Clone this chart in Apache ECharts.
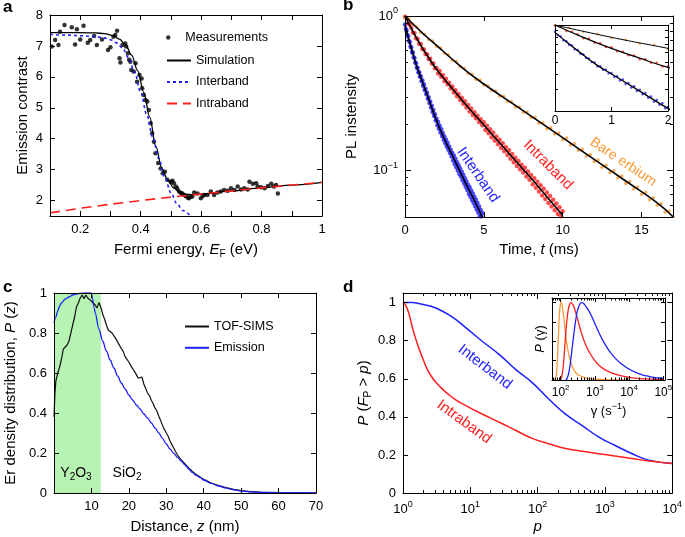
<!DOCTYPE html>
<html><head><meta charset="utf-8">
<script src="https://cdn.jsdelivr.net/npm/echarts@6/dist/echarts.min.js"></script>
<style>html,body{margin:0;padding:0;background:#fff}#c{width:685px;height:537px}</style>
</head><body><div id="c"></div>
<script>
// ---------- Panel a ----------
const aMeas = [[0.106,6.98],[0.117,7.19],[0.128,7.03],[0.133,7.46],[0.148,7.68],[0.172,7.60],[0.183,7.05],[0.189,7.54],[0.2,7.21],[0.211,7.65],[0.225,7.10],[0.233,7.19],[0.246,7.32],[0.255,7.03],[0.272,7.21],[0.292,6.87],[0.3,6.96],[0.31,7.30],[0.316,7.35],[0.322,7.49],[0.33,6.6],[0.333,6.46],[0.34,7.03],[0.349,7.08],[0.352,6.98],[0.358,6.76],[0.362,6.55],[0.366,6.49],[0.369,6.22],[0.377,6.17],[0.383,6.44],[0.388,5.84],[0.396,6.06],[0.403,5.95],[0.405,5.63],[0.41,5.41],[0.416,5.25],[0.422,5.2],[0.427,4.93],[0.433,4.5],[0.438,4.18],[0.444,3.9],[0.449,3.53],[0.458,3.21],[0.466,3.04],[0.473,2.88],[0.48,2.93],[0.488,2.67],[0.499,2.61],[0.505,2.64],[0.51,2.56],[0.516,2.45],[0.521,2.4],[0.527,2.29],[0.533,2.24],[0.538,2.23],[0.545,2.18],[0.549,2.15],[0.555,2.1],[0.56,2.07],[0.565,2.12],[0.571,2.13],[0.577,2.26],[0.588,2.23],[0.599,2.07],[0.605,2.15],[0.61,2.18],[0.621,2.18],[0.632,2.29],[0.643,2.18],[0.654,2.26],[0.665,2.29],[0.676,2.34],[0.688,2.32],[0.699,2.40],[0.71,2.34],[0.721,2.45],[0.732,2.36],[0.743,2.40],[0.754,2.36],[0.76,2.61],[0.771,2.54],[0.782,2.56],[0.787,2.45],[0.798,2.43],[0.81,2.40],[0.821,2.47],[0.832,2.54],[0.841,2.45],[0.848,2.5],[0.854,2.23]];
const aSim = [[0.1,7.43],[0.15,7.43],[0.2,7.43],[0.25,7.42],[0.28,7.4],[0.31,7.33],[0.33,7.22],[0.35,7.03],[0.37,6.7],[0.39,6.2],[0.41,5.5],[0.43,4.7],[0.45,3.75],[0.47,3.05],[0.49,2.65],[0.51,2.4],[0.53,2.27],[0.55,2.2],[0.57,2.19],[0.6,2.21],[0.7,2.31],[0.8,2.41],[0.9,2.5],[1.0,2.59]];
const aInter = [[0.1,7.37],[0.15,7.35],[0.2,7.33],[0.25,7.3],[0.28,7.26],[0.3,7.2],[0.32,7.1],[0.34,6.93],[0.36,6.62],[0.38,6.15],[0.4,5.5],[0.42,4.78],[0.44,4.05],[0.46,3.35],[0.48,2.75],[0.5,2.25],[0.52,1.9],[0.54,1.68],[0.565,1.5]];
const aIntra = [[0.1,1.6],[0.2,1.75],[0.3,1.88],[0.4,2.0],[0.5,2.11],[0.6,2.21],[0.7,2.31],[0.8,2.41],[0.9,2.5],[1.0,2.59]];

// ---------- Panel b ----------
const bScatInter = [[0,0.88],[0.05,0.825],[0.1,0.805],[0.15,0.752],[0.2,0.738],[0.25,0.69],[0.3,0.68],[0.35,0.635],[0.4,0.625],[0.45,0.585],[0.5,0.578],[0.55,0.54],[0.6,0.535],[0.65,0.5],[0.7,0.495],[0.75,0.462],[0.8,0.462],[0.85,0.432],[0.9,0.433],[0.95,0.405],[1,0.408],[1.05,0.378],[1.1,0.384],[1.15,0.354],[1.2,0.361],[1.25,0.332],[1.3,0.338],[1.35,0.311],[1.4,0.318],[1.45,0.291],[1.5,0.298],[1.55,0.273],[1.6,0.28],[1.65,0.256],[1.7,0.262],[1.75,0.239],[1.8,0.246],[1.85,0.225],[1.9,0.231],[1.95,0.211],[2,0.216],[2.05,0.196],[2.1,0.206],[2.15,0.186],[2.2,0.195],[2.25,0.176],[2.3,0.185],[2.35,0.167],[2.4,0.175],[2.45,0.158],[2.5,0.166],[2.55,0.15],[2.6,0.158],[2.65,0.143],[2.7,0.151],[2.75,0.136],[2.8,0.143],[2.85,0.13],[2.9,0.136],[2.95,0.123],[3,0.13],[3.05,0.116],[3.1,0.125],[3.15,0.11],[3.2,0.119],[3.25,0.105],[3.3,0.113],[3.35,0.1],[3.4,0.108],[3.45,0.095],[3.5,0.103],[3.55,0.091],[3.6,0.098],[3.65,0.0866],[3.7,0.0935],[3.75,0.0825],[3.8,0.089],[3.85,0.0785],[3.9,0.0848],[3.95,0.0748],[4,0.081],[4.05,0.0707],[4.1,0.078],[4.15,0.0675],[4.2,0.0743],[4.25,0.0644],[4.3,0.0709],[4.35,0.0615],[4.4,0.0677],[4.45,0.0587],[4.5,0.0647],[4.55,0.0559],[4.6,0.0615],[4.65,0.0532],[4.7,0.0585],[4.75,0.0506],[4.8,0.0556],[4.85,0.0505],[4.9,0.053]];
const bScatIntra = [[0,0.99],[0.1,0.965],[0.2,0.895],[0.3,0.88],[0.4,0.84],[0.5,0.78],[0.6,0.775],[0.7,0.718],[0.8,0.71],[0.9,0.662],[1,0.658],[1.1,0.611],[1.2,0.606],[1.3,0.568],[1.4,0.566],[1.5,0.527],[1.6,0.528],[1.7,0.493],[1.8,0.493],[1.9,0.459],[2,0.46],[2.1,0.425],[2.2,0.44],[2.3,0.405],[2.4,0.415],[2.5,0.38],[2.6,0.392],[2.7,0.361],[2.8,0.37],[2.9,0.339],[3,0.35],[3.1,0.32],[3.2,0.331],[3.3,0.302],[3.4,0.313],[3.5,0.286],[3.6,0.296],[3.7,0.27],[3.8,0.281],[3.9,0.256],[4,0.265],[4.1,0.241],[4.2,0.252],[4.3,0.229],[4.4,0.238],[4.5,0.218],[4.6,0.226],[4.7,0.206],[4.8,0.215],[4.9,0.196],[5,0.205],[5.1,0.183],[5.2,0.195],[5.3,0.174],[5.4,0.185],[5.5,0.164],[5.6,0.176],[5.7,0.156],[5.8,0.166],[5.9,0.148],[6,0.158],[6.1,0.14],[6.2,0.15],[6.3,0.133],[6.4,0.142],[6.5,0.126],[6.6,0.135],[6.7,0.119],[6.8,0.128],[6.9,0.113],[7,0.121],[7.1,0.107],[7.2,0.115],[7.3,0.102],[7.4,0.109],[7.5,0.097],[7.6,0.104],[7.7,0.0916],[7.8,0.0985],[7.9,0.087],[8,0.0935],[8.1,0.0815],[8.2,0.089],[8.3,0.0772],[8.4,0.0846],[8.5,0.073],[8.6,0.0803],[8.7,0.069],[8.8,0.0762],[8.9,0.0653],[9,0.0721],[9.1,0.0617],[9.2,0.0683],[9.3,0.0584],[9.4,0.0646],[9.5,0.0553],[9.6,0.0612],[9.7,0.0522],[9.8,0.0578],[9.9,0.0505],[10,0.0545]];
const bScatBare = [[0,0.99],[0.25,0.955],[0.5,0.88],[0.75,0.85],[1,0.785],[1.25,0.76],[1.5,0.705],[1.75,0.688],[2,0.638],[2.25,0.62],[2.5,0.575],[2.75,0.561],[3,0.518],[3.25,0.507],[3.5,0.469],[3.75,0.459],[4,0.425],[4.25,0.419],[4.5,0.39],[4.75,0.385],[5,0.357],[5.25,0.354],[5.5,0.329],[5.75,0.327],[6,0.303],[6.25,0.302],[6.5,0.28],[6.75,0.279],[7,0.258],[7.25,0.258],[7.5,0.238],[7.75,0.239],[8,0.22],[8.25,0.221],[8.5,0.202],[8.75,0.204],[9,0.186],[9.25,0.189],[9.5,0.172],[9.75,0.175],[10,0.158],[10.25,0.162],[10.5,0.146],[10.75,0.149],[11,0.135],[11.25,0.137],[11.5,0.124],[11.75,0.127],[12,0.114],[12.25,0.117],[12.5,0.105],[12.75,0.108],[13,0.097],[13.25,0.0995],[13.5,0.0895],[13.75,0.092],[14,0.0825],[14.25,0.0848],[14.5,0.076],[14.75,0.0782],[15,0.0702],[15.25,0.0722],[15.5,0.0647],[15.75,0.0666],[16,0.0596],[16.25,0.0606],[16.5,0.0537],[16.75,0.0546],[17,0.0505]];
const bFitInter = [[0,0.871],[0.25,0.70],[0.5,0.57],[0.75,0.47],[1,0.40],[1.5,0.29],[2,0.21],[2.5,0.16],[3,0.125],[3.5,0.098],[4,0.077],[4.5,0.061],[4.9,0.05]];
const bFitIntra = [[0,1],[0.5,0.794],[1,0.646],[1.5,0.537],[2,0.452],[3,0.339],[4,0.257],[5,0.197],[6,0.151],[7,0.116],[8,0.0891],[9,0.0676],[10,0.0513]];
const bFitBare = [[0,1],[1,0.794],[2,0.646],[3,0.525],[4,0.432],[5,0.363],[6,0.309],[8,0.225],[10,0.163],[12,0.118],[14,0.0855],[16,0.0618],[17,0.0502]];

// ---------- Panel c ----------
const cLayer = [0, 12.5];
const cTof = [[0,0.38],[0.25,0.5],[0.5,0.56],[1,0.6],[1.5,0.63],[2,0.67],[2.5,0.72],[3,0.715],[3.5,0.74],[4,0.76],[4.5,0.8],[5,0.84],[5.5,0.88],[6,0.93],[6.5,0.95],[7,0.975],[7.5,0.99],[8,0.972],[8.5,0.99],[9,0.975],[9.5,0.97],[10,0.96],[10.5,0.955],[11,0.94],[11.5,0.925],[12,0.952],[12.5,0.93],[13,0.895],[13.5,0.87],[14,0.84],[14.5,0.815],[15,0.822],[15.5,0.8],[16,0.792],[16.5,0.772],[17,0.762],[17.5,0.738],[18,0.722],[18.5,0.708],[19,0.682],[19.5,0.668],[20,0.655],[20.5,0.638],[21,0.622],[21.5,0.608],[22,0.592],[22.5,0.574],[23,0.566],[23.5,0.58],[24,0.545],[24.5,0.522],[25,0.5],[25.5,0.487],[26,0.464],[26.5,0.446],[27,0.424],[27.5,0.41],[28,0.384],[28.5,0.362],[29,0.338],[29.5,0.318],[30,0.3],[30.5,0.284],[31,0.26],[31.5,0.242],[32,0.224],[32.5,0.206],[33,0.19],[33.5,0.18],[34,0.165],[35,0.145],[36,0.125],[37,0.108],[38,0.092],[39,0.08],[40,0.068],[42,0.05],[44,0.037],[46,0.027],[48,0.018],[50,0.012],[52,0.008],[55,0.004],[60,0.002],[65,0.001],[70,0]];
const cEmission = [[0,0.85],[0.5,0.88],[1,0.91],[1.5,0.935],[2,0.95],[3,0.97],[4,0.98],[5,0.99],[6,0.995],[7,0.998],[8,1],[9,1],[10,1],[10.3,0.97],[10.7,0.93],[11,0.9],[12,0.82],[13,0.76],[14,0.71],[15,0.665],[16,0.625],[17,0.585],[18,0.55],[19,0.52],[20,0.49],[21,0.465],[22,0.44],[23,0.42],[24,0.395],[25,0.375],[26,0.35],[27,0.325],[28,0.3],[29,0.272],[30,0.245],[31,0.22],[32,0.198],[33,0.178],[34,0.16],[35,0.14],[36,0.12],[37,0.102],[38,0.088],[39,0.078],[40,0.065],[42,0.048],[44,0.035],[46,0.024],[48,0.016],[50,0.01],[52,0.006],[55,0.003],[60,0.001],[65,0],[70,0]];

// ---------- Panel d ----------
const dP = [1,1.1,1.25,1.4,1.7,2,2.5,3.5,5.5,9,15,27,47,83,150,260,460,810,1400,2500,4500,10000];
const dInter = [1,1,1,1,0.995,0.99,0.982,0.962,0.922,0.862,0.797,0.727,0.649,0.58,0.49,0.414,0.354,0.294,0.251,0.208,0.173,0.155];
const dIntra = [1,0.985,0.93,0.86,0.765,0.70,0.625,0.56,0.50,0.455,0.415,0.372,0.33,0.287,0.258,0.234,0.22,0.207,0.195,0.182,0.168,0.155];
const gBare = [[66,0],[74,0.05],[79,0.2],[85,0.5],[91,0.8],[98,0.97],[105,1],[112,0.95],[126,0.78],[141,0.58],[158,0.42],[200,0.22],[251,0.12],[316,0.07],[501,0.03],[1000,0.01],[3162,0.002],[10000,0]];
const gIntra = [[100,0],[112,0.08],[126,0.3],[141,0.6],[158,0.83],[178,0.96],[200,1],[224,0.98],[251,0.93],[316,0.78],[398,0.62],[501,0.49],[631,0.39],[1000,0.25],[1585,0.16],[3162,0.09],[10000,0.035],[31620,0.015],[100000,0.006]];
const gInter = [[141,0],[158,0.03],[178,0.12],[200,0.28],[224,0.46],[251,0.64],[282,0.8],[316,0.91],[355,0.97],[398,1],[447,0.995],[501,0.975],[631,0.91],[794,0.83],[1000,0.73],[1585,0.54],[2512,0.39],[3981,0.28],[6310,0.2],[10000,0.14],[19950,0.08],[39810,0.045],[100000,0.02]];

// ---------- styling / helpers ----------
const FONT = '"Liberation Sans", Arial, Helvetica, sans-serif';
const BLK = '#000';
const BLUE = '#1f1fff', RED = '#ff1f1f', ORANGE = '#f99a32', GREEN = '#b7f3b3';

function merge(a, b) {
  for (const k in b) {
    if (b[k] && typeof b[k] === 'object' && !Array.isArray(b[k]) && typeof b[k] !== 'function' &&
        a[k] && typeof a[k] === 'object' && !Array.isArray(a[k])) merge(a[k], b[k]);
    else a[k] = b[k];
  }
  return a;
}
function axis(extra) {
  return merge({
    type: 'value', z: 5,
    axisLine: { show: true, onZero: false, lineStyle: { color: BLK, width: 1 } },
    axisTick: { show: true, inside: true, length: 5, lineStyle: { color: BLK, width: 1 } },
    axisLabel: { show: true, color: BLK, fontSize: 13, fontFamily: FONT, margin: 7 },
    splitLine: { show: false },
    nameLocation: 'middle',
    nameTextStyle: { color: BLK, fontSize: 15, fontFamily: FONT, lineHeight: 19 }
  }, extra);
}
function supRich(fs) {
  const ps = Math.round(fs * 0.7);
  return { n: { fontSize: fs, fontFamily: FONT, color: BLK, lineHeight: fs + 6 },
           p: { fontSize: ps, fontFamily: FONT, color: BLK, lineHeight: ps, verticalAlign: 'top' } };
}
function nameRich(fs) {
  const ss = Math.round(fs * 0.68);
  return { i: { fontStyle: 'italic', fontSize: fs, fontFamily: FONT, color: BLK, lineHeight: fs + 4 },
           s: { fontSize: ss, fontFamily: FONT, color: BLK, lineHeight: ss, verticalAlign: 'bottom' },
           p: { fontSize: ss, fontFamily: FONT, color: BLK, lineHeight: ss, verticalAlign: 'top' } };
}
function powLabel(v) {
  const e = Math.log10(v), r = Math.round(e);
  if (Math.abs(e - r) > 1e-6) return '';
  return '{n|10}{p|' + (r < 0 ? '\u2212' + (-r) : r) + '}';
}
function minorLog(lo, hi) {
  const out = [];
  for (let d = Math.floor(Math.log10(lo)); d <= Math.ceil(Math.log10(hi)); d++)
    for (let m = 2; m <= 9; m++) {
      const v = +(m * Math.pow(10, d)).toPrecision(6);
      if (v > lo * 1.0001 && v < hi * 0.9999) out.push(v);
    }
  return out;
}
const fmt01 = v => Math.abs(v) < 1e-9 ? '0' : (Math.abs(v - 1) < 1e-9 ? '1' : v.toFixed(1));
const fmtA = v => { const k = Math.round(v * 10); return k % 2 === 0 ? (k === 10 ? '1' : (k / 10).toFixed(1)) : ''; };
const noLab = { show: false };

const xAxes = [
  axis({ gridIndex: 0, position: 'bottom', min: 0.1, max: 1, interval: 0.1, axisLabel: { formatter: fmtA },
         name: 'Fermi energy, {i|E}{s|F} (eV)', nameGap: 24, nameTextStyle: { rich: nameRich(15) } }),
  axis({ gridIndex: 0, position: 'top', min: 0.1, max: 1, interval: 0.1, axisLabel: noLab }),
  axis({ gridIndex: 1, position: 'bottom', min: 0, max: 17, interval: 5, axisLabel: { showMaxLabel: false },
         name: 'Time, {i|t} (ms)', nameGap: 23, nameTextStyle: { rich: nameRich(15) } }),
  axis({ gridIndex: 1, position: 'top', min: 0, max: 17, interval: 5, axisLabel: noLab }),
  axis({ gridIndex: 2, position: 'bottom', min: 0, max: 2, interval: 1, axisTick: { length: 4 }, axisLabel: { fontSize: 12, margin: 4 } }),
  axis({ gridIndex: 2, position: 'top', min: 0, max: 2, interval: 1, axisTick: { length: 4 }, axisLabel: noLab }),
  axis({ gridIndex: 3, position: 'bottom', min: 0, max: 70, interval: 10, axisLabel: { showMinLabel: false },
         name: 'Distance, {i|z} (nm)', nameGap: 24, nameTextStyle: { rich: nameRich(15) } }),
  axis({ gridIndex: 3, position: 'top', min: 0, max: 70, interval: 10, axisLabel: noLab }),
  axis({ gridIndex: 4, position: 'bottom', type: 'log', logBase: 10, min: 1, max: 10000, axisTick: { length: 6 },
         axisLabel: { formatter: powLabel, rich: supRich(13) }, name: '{i|p}', nameGap: 20, nameTextStyle: { rich: nameRich(15) } }),
  axis({ gridIndex: 4, position: 'bottom', type: 'log', logBase: 10, min: 1, max: 10000, axisLine: { show: false },
         axisLabel: noLab, axisTick: { length: 3, customValues: minorLog(1, 10000) } }),
  axis({ gridIndex: 4, position: 'top', type: 'log', logBase: 10, min: 1, max: 10000, axisTick: { length: 6 }, axisLabel: noLab }),
  axis({ gridIndex: 4, position: 'top', type: 'log', logBase: 10, min: 1, max: 10000, axisLine: { show: false },
         axisLabel: noLab, axisTick: { length: 3, customValues: minorLog(1, 10000) } }),
  axis({ gridIndex: 5, position: 'bottom', type: 'log', logBase: 10, min: 56, max: 112000, axisTick: { length: 4 },
         axisLabel: { fontSize: 12, margin: 4, formatter: powLabel, rich: supRich(12) },
         name: '\u03b3 (s{p|\u22121})', nameGap: 22, nameTextStyle: { fontSize: 13, rich: nameRich(13) } }),
  axis({ gridIndex: 5, position: 'bottom', type: 'log', logBase: 10, min: 56, max: 112000, axisLine: { show: false },
         axisLabel: noLab, axisTick: { length: 2.5, customValues: minorLog(56, 112000) } }),
  axis({ gridIndex: 5, position: 'top', type: 'log', logBase: 10, min: 56, max: 112000, axisTick: { length: 4 }, axisLabel: noLab }),
  axis({ gridIndex: 5, position: 'top', type: 'log', logBase: 10, min: 56, max: 112000, axisLine: { show: false },
         axisLabel: noLab, axisTick: { length: 2.5, customValues: minorLog(56, 112000) } })
];
const yAxes = [
  axis({ gridIndex: 0, position: 'left', min: 1.5, max: 8, minInterval: 1, maxInterval: 1, axisLabel: { showMinLabel: false },
         name: 'Emission contrast', nameGap: 17 }),
  axis({ gridIndex: 0, position: 'right', min: 1.5, max: 8, minInterval: 1, maxInterval: 1, axisLabel: noLab }),
  axis({ gridIndex: 1, position: 'left', type: 'log', logBase: 10, min: 0.05, max: 1, axisTick: { length: 6 },
         axisLabel: { formatter: powLabel, rich: supRich(13) }, name: 'PL instensity', nameGap: 44 }),
  axis({ gridIndex: 1, position: 'left', type: 'log', logBase: 10, min: 0.05, max: 1, axisLine: { show: false },
         axisLabel: noLab, axisTick: { length: 3, customValues: minorLog(0.05, 1) } }),
  axis({ gridIndex: 1, position: 'right', type: 'log', logBase: 10, min: 0.05, max: 1, axisTick: { length: 6 }, axisLabel: noLab }),
  axis({ gridIndex: 1, position: 'right', type: 'log', logBase: 10, min: 0.05, max: 1, axisLine: { show: false },
         axisLabel: noLab, axisTick: { length: 3, customValues: minorLog(0.05, 1) } }),
  axis({ gridIndex: 2, position: 'left', type: 'log', logBase: 10, min: 0.2, max: 1, axisLabel: noLab,
         axisTick: { length: 3, customValues: minorLog(0.2, 1) } }),
  axis({ gridIndex: 2, position: 'right', type: 'log', logBase: 10, min: 0.2, max: 1, axisLabel: noLab,
         axisTick: { length: 3, customValues: minorLog(0.2, 1) } }),
  axis({ gridIndex: 3, position: 'left', min: 0, max: 1, interval: 0.2, axisLabel: { formatter: fmt01 },
         name: 'Er density distribution, {i|P} ({i|z})', nameGap: 34, nameTextStyle: { rich: nameRich(15) } }),
  axis({ gridIndex: 3, position: 'right', min: 0, max: 1, interval: 0.2, axisLabel: noLab }),
  axis({ gridIndex: 4, position: 'left', min: 0, max: 1.05, interval: 0.2, axisLabel: { formatter: fmt01, showMaxLabel: false },
         name: '{i|P} ({i|F}{s|P} > {i|p})', nameGap: 30, nameTextStyle: { rich: nameRich(15) } }),
  axis({ gridIndex: 4, position: 'right', min: 0, max: 1.05, interval: 0.2, axisLabel: noLab }),
  axis({ gridIndex: 5, position: 'left', min: 0, max: 1.06, interval: 0.25, axisTick: { length: 4 }, axisLabel: noLab,
         name: '{i|P} (\u03b3)', nameGap: 2, nameTextStyle: { fontSize: 13, rich: nameRich(13) } }),
  axis({ gridIndex: 5, position: 'right', min: 0, max: 1.06, interval: 0.25, axisTick: { length: 4 }, axisLabel: noLab })
];

function lineS(name, xi, yi, data, color, width, extra) {
  return merge({ name: name, type: 'line', xAxisIndex: xi, yAxisIndex: yi, data: data, symbol: 'none',
    smooth: true, lineStyle: { color: color, width: width }, itemStyle: { color: color }, z: 3 }, extra || {});
}
function scatS(name, xi, yi, data, color, size) {
  return { name: name, type: 'scatter', xAxisIndex: xi, yAxisIndex: yi, data: data, symbolSize: size,
    itemStyle: { color: color }, clip: true, z: 2 };
}
const mono = { smooth: 0.35, smoothMonotone: 'x' };

const series = [
  scatS('Measurements', 0, 0, aMeas, BLK, 4.5),
  lineS('Simulation', 0, 0, aSim, BLK, 1.3, mono),
  lineS('Interband', 0, 0, aInter, BLUE, 1.6, { lineStyle: { type: [3, 3] }, smooth: 0.35, smoothMonotone: 'x' }),
  lineS('Intraband', 0, 0, aIntra, RED, 1.6, { lineStyle: { type: [10, 6] }, smooth: false }),
  scatS('b-inter-pts', 2, 2, bScatInter, BLUE, 4.5),
  scatS('b-intra-pts', 2, 2, bScatIntra, RED, 4.5),
  scatS('b-bare-pts', 2, 2, bScatBare, ORANGE, 3.5),
  lineS('b-inter-fit', 2, 2, bFitInter, BLK, 1.6, { z: 4 }),
  lineS('b-intra-fit', 2, 2, bFitIntra, BLK, 1.6, { z: 4 }),
  lineS('b-bare-fit', 2, 2, bFitBare, BLK, 1.6, { z: 4 }),
  scatS('bi-inter-pts', 4, 6, bScatInter, BLUE, 2.5),
  scatS('bi-intra-pts', 4, 6, bScatIntra, RED, 2.5),
  scatS('bi-bare-pts', 4, 6, bScatBare, ORANGE, 2.5),
  lineS('bi-inter-fit', 4, 6, bFitInter, BLK, 1.3, { z: 4 }),
  lineS('bi-intra-fit', 4, 6, bFitIntra, BLK, 1.3, { z: 4 }),
  lineS('bi-bare-fit', 4, 6, bFitBare, BLK, 1.0, { z: 4 }),
  lineS('TOF-SIMS', 6, 8, cTof, '#111', 1.2, { smooth: false,
    markArea: { silent: true, itemStyle: { color: GREEN }, data: [[{ xAxis: cLayer[0] }, { xAxis: cLayer[1] }]] } }),
  lineS('Emission', 6, 8, cEmission, BLUE, 1.3, mono),
  lineS('d-inter', 8, 10, dP.map((p, i) => [p, dInter[i]]), BLUE, 1.5),
  lineS('d-intra', 8, 10, dP.map((p, i) => [p, dIntra[i]]), RED, 1.5),
  lineS('di-bare', 12, 12, gBare, ORANGE, 1.3),
  lineS('di-intra', 12, 12, gIntra, RED, 1.3),
  lineS('di-inter', 12, 12, gInter, BLUE, 1.3)
];

const legText = { color: BLK, fontSize: 12.5, fontFamily: FONT };
const txt = (t, x, y, color, rot, size) => ({ type: 'text', x: x, y: y, rotation: rot, z: 10,
  style: { text: t, fill: color, font: (size || 14) + 'px ' + FONT, align: 'center', verticalAlign: 'middle' } });
const subRich = { b: { fontSize: 14, lineHeight: 18, fontFamily: FONT, fill: BLK },
                  s: { fontSize: 10, lineHeight: 10, verticalAlign: 'bottom', fontFamily: FONT, fill: BLK } };

const option = {
  animation: false,
  backgroundColor: '#fff',
  textStyle: { fontFamily: FONT },
  grid: [
    { left: 50, top: 15, width: 272, height: 201 },
    { left: 405, top: 16, width: 268, height: 201 },
    { left: 555, top: 25, width: 113, height: 86 },
    { left: 50, top: 293, width: 266, height: 202 },
    { left: 403, top: 293, width: 271, height: 202 },
    { left: 552, top: 298, width: 113, height: 82 }
  ],
  xAxis: xAxes,
  yAxis: yAxes,
  legend: [
    { data: [{ name: 'Measurements', icon: 'circle' }], left: 166, top: 31, padding: 0, itemWidth: 24, itemHeight: 4.5,
      selectedMode: false, textStyle: legText },
    { data: ['Simulation', 'Interband', 'Intraband'], orient: 'vertical', left: 166, top: 54, padding: 0,
      itemWidth: 24, itemHeight: 14, itemGap: 8.5, selectedMode: false, textStyle: legText, itemStyle: { opacity: 0 } },
    { data: ['TOF-SIMS', 'Emission'], orient: 'vertical', left: 184, top: 320, padding: 0,
      itemWidth: 24, itemHeight: 14, itemGap: 8.3, selectedMode: false, textStyle: legText, itemStyle: { opacity: 0 } }
  ],
  graphic: [
    { type: 'text', left: 3, top: -1, z: 10, style: { text: 'a', fill: BLK, font: 'bold 17px ' + FONT } },
    { type: 'text', left: 343, top: -3, z: 10, style: { text: 'b', fill: BLK, font: 'bold 17px ' + FONT } },
    { type: 'text', left: 3, top: 279, z: 10, style: { text: 'c', fill: BLK, font: 'bold 17px ' + FONT } },
    { type: 'text', left: 343, top: 279, z: 10, style: { text: 'd', fill: BLK, font: 'bold 17px ' + FONT } },
    txt('Interband', 478, 175, BLUE, -0.969, 15),
    txt('Intraband', 548, 165, RED, -0.785, 15),
    txt('Bare erbium', 623, 162, ORANGE, -0.588, 14),
    txt('Interband', 485, 367, BLUE, -0.654, 15),
    txt('Intraband', 464, 422, RED, -0.63, 15),
    { type: 'text', x: 76, y: 473, z: 10, style: { text: '{b|Y}{s|2}{b|O}{s|3}', rich: subRich, align: 'center', verticalAlign: 'middle' } },
    { type: 'text', x: 127, y: 473, z: 10, style: { text: '{b|SiO}{s|2}', rich: subRich, align: 'center', verticalAlign: 'middle' } }
  ],
  series: series
};
const chart = echarts.init(document.getElementById('c'), null, { renderer: 'canvas' });
chart.setOption(option);
</script></body></html>
